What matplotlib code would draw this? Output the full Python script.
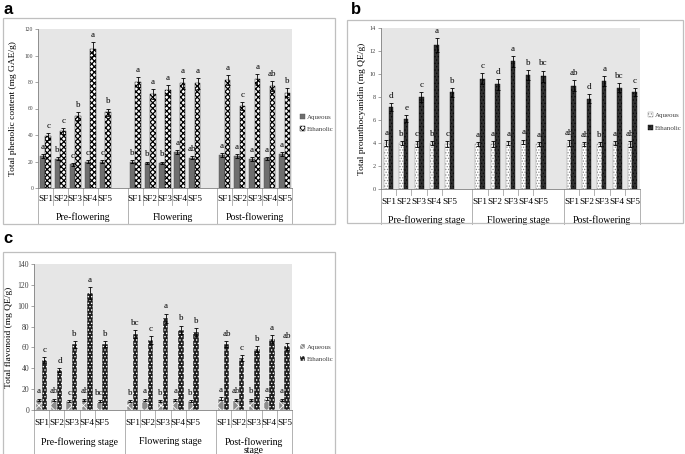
import matplotlib.pyplot as plt
from matplotlib.patches import Rectangle

plt.rcParams['font.family'] = ['Liberation Serif', 'DejaVu Serif']
plt.rcParams['hatch.linewidth'] = 0.6

sf_names = ['SF1', 'SF2', 'SF3', 'SF4', 'SF5']
series_names = ['Aqueous', 'Ethanolic']

# a: total phenolic content (mg GAE/g)
phen_groups = ['Pre-flowering', 'Flowering', 'Post-flowering']
phen_aq = [24, 22, 18, 20, 20, 20, 19, 19, 27, 23, 25, 24, 22, 22.5, 25.5]
phen_aq_err = [1.5, 1.2, 1.2, 1.0, 1.2, 1.2, 1.0, 1.0, 1.5, 1.2, 1.5, 1.5, 1.5, 1.2, 1.5]
phen_eth = [39, 43, 54, 105, 57, 80, 71, 74, 79, 79, 81.5, 62, 82, 77, 72]
phen_eth_err = [2.5, 2.5, 3, 5, 3, 4, 4, 4, 4, 4, 4, 3, 4, 3.5, 3.5]
phen_aq_let = ['a', 'b', 'c', 'c', 'c', 'b', 'b', 'b', 'a', 'ab', 'a', 'a', 'a', 'a', 'a']
phen_eth_let = ['c', 'c', 'b', 'a', 'b', 'a', 'a', 'a', 'a', 'a', 'a', 'c', 'a', 'ab', 'b']

# b: total prounthocyanidin (mg QE/g)
pro_groups = ['Pre-flowering stage', 'Flowering stage', 'Post-flowering']
pro_aq = [4.0, 4.0, 3.9, 4.0, 3.9, 3.9, 3.9, 4.0, 4.1, 3.9, 4.0, 3.9, 3.9, 4.0, 3.9]
pro_aq_err = [0.25, 0.2, 0.25, 0.2, 0.25, 0.2, 0.25, 0.2, 0.2, 0.2, 0.25, 0.2, 0.2, 0.2, 0.25]
pro_eth = [7.1, 6.1, 8.0, 12.5, 8.4, 9.6, 9.1, 11.1, 9.9, 9.8, 9.0, 7.85, 9.4, 8.8, 8.4]
pro_eth_err = [0.35, 0.3, 0.4, 0.6, 0.4, 0.45, 0.45, 0.5, 0.45, 0.5, 0.45, 0.4, 0.45, 0.4, 0.35]
pro_aq_let = ['a', 'b', 'c', 'b', 'c', 'a', 'a', 'a', 'a', 'a', 'ab', 'ab', 'b', 'a', 'ab']
pro_eth_let = ['d', 'e', 'c', 'a', 'b', 'c', 'd', 'a', 'b', 'bc', 'ab', 'd', 'a', 'bc', 'c']

# c: total flavonoid (mg QE/g)
flav_groups = ['Pre-flowering stage', 'Flowering stage', 'Post-flowering\nstage']
flav_aq = [10, 10, 9, 10, 9, 9, 10, 9, 10, 9, 11, 10, 10, 11, 10]
flav_aq_err = [1.0] * 15
flav_eth = [48, 38, 63, 112, 63, 73, 67, 88, 77, 75, 63.5, 50, 58.5, 68, 61]
flav_eth_err = [2.5, 2, 3.5, 5.5, 3, 3.5, 3.5, 4.5, 4, 4, 3, 3, 3, 3.5, 3]
flav_aq_let = ['a', 'ab', 'c', 'ab', 'bc', 'b', 'a', 'b', 'a', 'b', 'a', 'ab', 'b', 'a', 'a']
flav_eth_let = ['c', 'd', 'b', 'a', 'b', 'bc', 'c', 'a', 'b', 'b', 'ab', 'c', 'b', 'a', 'ab']

W, H = 685, 454
fig = plt.figure(figsize=(W / 100, H / 100), dpi=100)


def px_axes(x0, y0, x1, y1):
    return fig.add_axes([x0 / W, 1 - y1 / H, (x1 - x0) / W, (y1 - y0) / H])


def draw_panel(ax, groups, aq, aq_err, eth, eth_err, aq_let, eth_let,
               ymax, ystep, ylabel, ylab_x, width, aq_style, eth_style,
               tick_size, sf_depth, sf_text, grp_text, grp_depth, leg_y, eth_hatch_lw=0.6):
    pos = [g * 6 + j + 0.5 for g in range(3) for j in range(5)]
    x_aq = [p - width / 2 for p in pos]
    x_eth = [p + width / 2 for p in pos]
    ax.set_facecolor('#e6e6e6')
    ax.bar(x_aq, aq, width, label=series_names[0], zorder=3, **aq_style)
    with plt.rc_context({'hatch.linewidth': eth_hatch_lw}):
        ax.bar(x_eth, eth, width, label=series_names[1], zorder=3, **eth_style)
    ax.errorbar(x_aq, aq, yerr=aq_err, fmt='none', ecolor='black',
                elinewidth=0.6, capsize=1.5, capthick=0.6, zorder=4)
    ax.errorbar(x_eth, eth, yerr=eth_err, fmt='none', ecolor='black',
                elinewidth=0.6, capsize=1.5, capthick=0.6, zorder=4)
    for xs, vals, errs, lets in [(x_aq, aq, aq_err, aq_let), (x_eth, eth, eth_err, eth_let)]:
        for x, v, e, t in zip(xs, vals, errs, lets):
            ax.annotate(t, (x, v + e), xytext=(0, 2.2), textcoords='offset points',
                        ha='center', va='bottom', fontsize=6.5, zorder=2)
    ax.set_xlim(0, 17)
    ax.set_ylim(0, ymax)
    ax.set_yticks(range(0, ymax + 1, ystep))
    ax.tick_params(axis='y', labelsize=tick_size, labelcolor='#404040', length=2,
                   width=0.5, color='#808080', pad=1.5)
    ax.set_xticks([])
    for s in ['top', 'right']:
        ax.spines[s].set_visible(False)
    ax.spines['left'].set_color('#808080')
    ax.spines['left'].set_linewidth(0.6)
    ax.spines['bottom'].set_color('#808080')
    ax.spines['bottom'].set_linewidth(0.6)
    ax.text(ylab_x, 0.5, ylabel, transform=ax.transAxes, rotation=90,
            ha='center', va='center', fontsize=6.8)

    # two-level category axis
    tr = ax.get_xaxis_transform()
    for g in range(3):
        for j in range(1, 5):
            ax.plot([g * 6 + j] * 2, [0, -sf_depth], transform=tr, clip_on=False,
                    color='#a6a6a6', lw=0.6)
        for j in range(5):
            ax.text(g * 6 + j + 0.5, -sf_text, sf_names[j], transform=tr,
                    ha='center', va='center', fontsize=6.7)
        center = g * 6 + (3 if g < 2 else 2.5)
        ax.text(center, -grp_text, groups[g], transform=tr, ha='center',
                va='top', fontsize=7, linespacing=0.95)
    for b in [0, 6, 12, 17]:
        ax.plot([b, b], [0, -grp_depth], transform=tr, clip_on=False,
                color='#a6a6a6', lw=0.6)

    ax.legend(loc='center left', bbox_to_anchor=(1.005, leg_y), frameon=False,
              fontsize=5, handlelength=0.8, handleheight=0.8, handletextpad=0.3,
              labelspacing=0.9, labelcolor='#404040')


# panel frames
for (x0, y0, x1, y1) in [(3, 18, 335, 224), (347, 20, 683, 223), (3, 252, 335, 460)]:
    fig.add_artist(Rectangle((x0 / W, 1 - y1 / H), (x1 - x0) / W, (y1 - y0) / H,
                             transform=fig.transFigure, fill=False,
                             edgecolor='#bfbfbf', lw=0.9))
for lab, x, y in [('a', 3, 2), ('b', 351, 2), ('c', 3, 231)]:
    fig.text(x / W, 1 - y / H, lab, fontsize=12, fontweight='bold',
             family='Liberation Sans', ha='left', va='top')

ax_a = px_axes(38, 29, 292, 188)
draw_panel(ax_a, phen_groups, phen_aq, phen_aq_err, phen_eth, phen_eth_err,
           phen_aq_let, phen_eth_let, 120, 20, 'Total phenolic content (mg GAE/g)',
           -0.1, 0.37,
           dict(color='#6e6e6e', edgecolor='#505050', linewidth=0.3),
           dict(color='white', hatch='xxxxxx', edgecolor='black', linewidth=0.3),
           4, 0.105, 0.07, 0.155, 0.226, 0.41, eth_hatch_lw=0.9)

ax_b = px_axes(381, 28, 640, 189)
draw_panel(ax_b, pro_groups, pro_aq, pro_aq_err, pro_eth, pro_eth_err,
           pro_aq_let, pro_eth_let, 14, 2, 'Total prounthocyanidin (mg QE/g)',
           -0.075, 0.3,
           dict(color='white', hatch='......', edgecolor='#8a8a8a', linewidth=0.3),
           dict(color='#303030', hatch='.....', edgecolor='#0a0a0a', linewidth=0.3),
           4.5, 0.04, 0.08, 0.165, 0.217, 0.42)

ax_c = px_axes(34, 264, 292, 410)
draw_panel(ax_c, flav_groups, flav_aq, flav_aq_err, flav_eth, flav_eth_err,
           flav_aq_let, flav_eth_let, 140, 20, 'Total flavonoid (mg QE/g)',
           -0.095, 0.36,
           dict(color='#8c8c8c', hatch='xxx', edgecolor='white', linewidth=0.3),
           dict(color='#1e1e1e', hatch='.....', edgecolor='white', linewidth=0.3),
           5.5, 0.116, 0.087, 0.185, 0.32, 0.39)

fig.savefig('out.png', dpi=100)
